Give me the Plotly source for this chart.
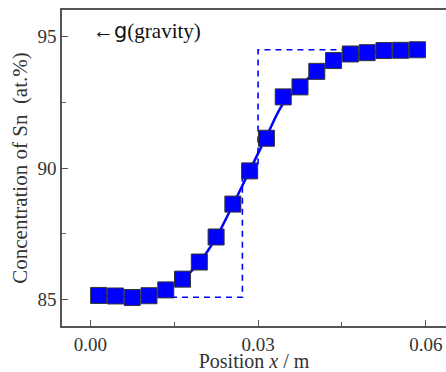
import plotly.graph_objects as go

# Measured data (markers)
pos_x = [0.0015, 0.0045, 0.0075, 0.0105, 0.0135, 0.0165, 0.0195, 0.0225, 0.0255, 0.0285,
         0.0315, 0.0345, 0.0375, 0.0405, 0.0435, 0.0465, 0.0495, 0.0525, 0.0555, 0.0585]
conc_sn = [85.16, 85.14, 85.08, 85.15, 85.37, 85.78, 86.43, 87.38, 88.63, 89.89,
           91.13, 92.70, 93.08, 93.67, 94.08, 94.33, 94.38, 94.46, 94.47, 94.49]

# Fitted curve
fit_x = [0.0015, 0.0045, 0.0075, 0.0105, 0.0135, 0.0165, 0.0195, 0.0225, 0.0255, 0.0285,
         0.0315, 0.0345, 0.0375, 0.0405, 0.0435, 0.0465, 0.0495, 0.0525, 0.0555, 0.0585]
fit_y = [85.14, 85.12, 85.11, 85.16, 85.36, 85.77, 86.42, 87.36, 88.6, 89.9,
         91.2, 92.45, 93.12, 93.66, 94.05, 94.28, 94.39, 94.44, 94.47, 94.49]

# Initial step profile (dashed)
step_x = [0.0105, 0.0272, 0.0272, 0.0300, 0.0300, 0.0470]
step_y = [85.09, 85.09, 90.0, 90.0, 94.49, 94.49]

x_ticks = [0.00, 0.03, 0.06]
x_ticklabels = ["0.00", "0.03", "0.06"]
y_ticks = [85, 90, 95]
y_ticklabels = ["85", "90", "95"]

BLUE = "#0000ff"
FONT = "Liberation Serif"

fig = go.Figure()
fig.add_trace(go.Scatter(x=step_x, y=step_y, mode="lines",
                         line=dict(color=BLUE, width=1.6, dash="6px,5px"),
                         hoverinfo="skip", showlegend=False))
fig.add_trace(go.Scatter(x=fit_x, y=fit_y, mode="lines",
                         line=dict(color=BLUE, width=2.5, shape="spline", smoothing=1.0),
                         showlegend=False))
fig.add_trace(go.Scatter(x=pos_x, y=conc_sn, mode="markers",
                         marker=dict(symbol="square", size=16, color=BLUE,
                                     line=dict(color="#333333", width=1)),
                         showlegend=False))

fig.add_annotation(x=0.0002, y=95.2, xref="x", yref="y", xanchor="left", yanchor="middle",
                   text="←<span style=\"font-family:'DejaVu Sans'\">g</span>(gravity)",
                   showarrow=False, font=dict(family=FONT, size=21, color="#111"))

axis_common = dict(showgrid=False, zeroline=False, showline=True, linecolor="#555555",
                   linewidth=1.5, mirror=True, ticks="inside", ticklen=6, tickwidth=1,
                   tickcolor="#555555", automargin=False,
                   tickfont=dict(family=FONT, size=19, color="#333"))

fig.update_xaxes(range=[-0.00505, 0.0636], tickvals=x_ticks, ticktext=x_ticklabels,
                 minor=dict(tickvals=[0.015, 0.045], ticks="inside", ticklen=4,
                            tickcolor="#555555"),
                 title=dict(text="Position <i>x</i> / m", font=dict(family=FONT, size=20, color="#333"),
                            standoff=2),
                 **axis_common)
fig.update_yaxes(range=[84, 96], tickvals=y_ticks, ticktext=y_ticklabels,
                 minor=dict(tickvals=[87.5, 92.5], ticks="inside", ticklen=4,
                            tickcolor="#555555"),
                 title=dict(text="Concentration of Sn  (at.%)",
                            font=dict(family=FONT, size=21, color="#333"), standoff=4),
                 **axis_common)

fig.update_layout(width=446, height=372, margin=dict(l=62, r=0, t=10, b=46),
                  plot_bgcolor="white", paper_bgcolor="white")

fig.write_html("out.html", config={"displayModeBar": False},
               post_script="document.body.style.margin='0';document.body.style.overflow='hidden';")
